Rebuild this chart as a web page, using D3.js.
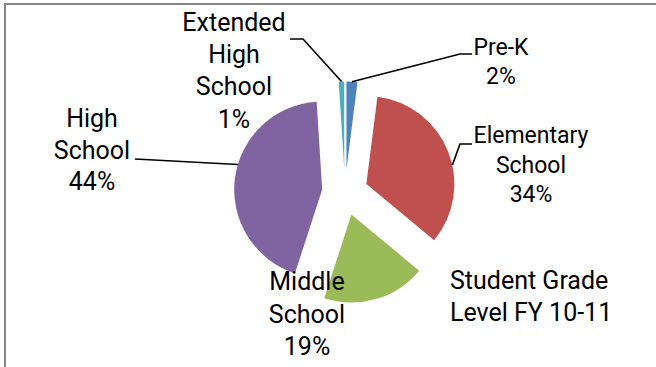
<!DOCTYPE html>
<html>
<head>
<meta charset="utf-8">
<script src="https://cdn.jsdelivr.net/npm/d3@7"></script>
<style>
  html, body { margin: 0; padding: 0; background: #fff; }
  svg { display: block; }
</style>
</head>
<body>
<svg id="chart" width="656" height="367"></svg>
<script>
// Student grade level shares, FY 10-11
const categories = ["Pre-K", "Elementary School", "Middle School", "High School", "Extended High School"];
const shares = [2, 34, 19, 44, 1];
const sliceColors = ["#4F81BD", "#C0504D", "#9BBB59", "#8064A2", "#4BACC6"];
const titleLines = ["Student Grade", "Level FY 10-11"];

const width = 656, height = 367;
const cx = 345, cy = 192.5;     // pie centre
const radius = 88;
const explode = 23;             // every slice pulled out by this much

// label blocks: centre x, first baseline, font size, line step, leader path
const labelStyle = [
  { x: 501, y: 55,  size: 23, step: 28.5, leader: [[472, 54], [460, 54]], anchorAngle: null },
  { x: 531, y: 143, size: 23, step: 29.5, leader: [[472, 144], [460, 144]], anchorAngle: 77.6 },
  { x: 307, y: 290, size: 25, step: 32.5, leader: null },
  { x: 92,  y: 127, size: 25, step: 31.5, leader: [[135, 159]], anchorAngle: 286.6 },
  { x: 234, y: 31,  size: 25, step: 32.2, leader: [[290, 39], [303, 39]], anchorAngle: null }
];

const svg = d3.select("#chart");
const font = "Roboto, 'Liberation Sans', sans-serif";

// chart area frame (top and left edges show)
svg.append("rect")
  .attr("x", 5).attr("y", 4)
  .attr("width", width + 40).attr("height", height + 40)
  .attr("fill", "none")
  .attr("stroke", "#868686")
  .attr("stroke-width", 2);

const pie = d3.pie().sort(null).value(d => d).startAngle(0).endAngle(2 * Math.PI);
const arcs = pie(shares);
const arc = d3.arc().innerRadius(0).outerRadius(radius);

function apexOf(a) {
  const mid = (a.startAngle + a.endAngle) / 2;
  return [cx + explode * Math.sin(mid), cy - explode * Math.cos(mid)];
}

const g = svg.append("g");
g.selectAll("path.slice")
  .data(arcs)
  .join("path")
  .attr("class", "slice")
  .attr("d", arc)
  .attr("fill", (d, i) => sliceColors[i])
  .attr("transform", d => {
    const [x, y] = apexOf(d);
    return `translate(${x},${y})`;
  });

// leader lines
arcs.forEach((a, i) => {
  const st = labelStyle[i];
  if (!st.leader) return;
  const [ax, ay] = apexOf(a);
  const ang = st.anchorAngle == null
    ? (a.startAngle + a.endAngle) / 2
    : st.anchorAngle * Math.PI / 180;
  const end = [ax + radius * Math.sin(ang), ay - radius * Math.cos(ang)];
  const pts = st.leader.concat([end]);
  svg.append("path")
    .attr("d", d3.line()(pts))
    .attr("fill", "none")
    .attr("stroke", "#000")
    .attr("stroke-width", 1.6);
});

// slice labels: category words stacked, then the percentage
arcs.forEach((a, i) => {
  const st = labelStyle[i];
  const lines = categories[i].split(" ").concat([shares[i] + "%"]);
  const t = svg.append("text")
    .attr("text-anchor", "middle")
    .attr("font-family", font)
    .attr("font-size", st.size)
    .attr("fill", "#000");
  lines.forEach((ln, k) => {
    t.append("tspan")
      .attr("x", st.x)
      .attr("y", st.y + k * st.step)
      .text(ln);
  });
});

// chart title
const title = svg.append("text")
  .attr("font-family", font)
  .attr("font-size", 25)
  .attr("fill", "#000");
titleLines.forEach((ln, k) => {
  title.append("tspan")
    .attr("x", 450)
    .attr("y", 289 + k * 32)
    .text(ln);
});
</script>
</body>
</html>
